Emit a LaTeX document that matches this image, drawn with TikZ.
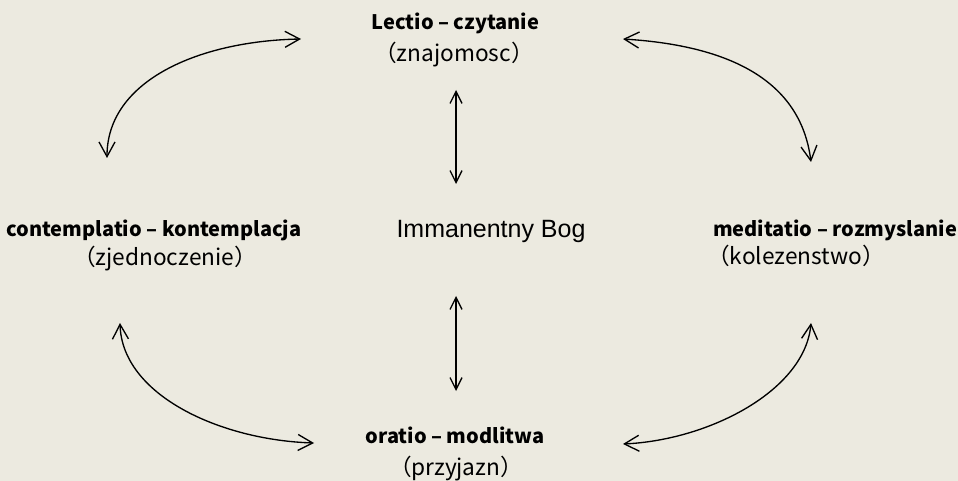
\documentclass[tikz,border=0pt]{standalone}
\usepackage{fontspec}
\usepackage{xcolor}
\usepackage{tikz}
\usetikzlibrary{arrows.meta}
\newfontfamily\gothfont{Noto Sans CJK JP}
\newfontfamily\godfont{Liberation Sans}
\definecolor{paper}{RGB}{236,234,224}

\begin{document}
\begin{tikzpicture}[x=0.75pt,y=0.75pt,yscale=-1,xscale=1,
    barb/.tip={Straight Barb[length=11pt,width=12pt]},
    smallbarb/.tip={Straight Barb[length=9pt,width=9pt]},
    conn/.style={line width=1pt,barb-barb},
    updown/.style={line width=1pt,smallbarb-smallbarb},
    head/.style={anchor=base,inner sep=0pt,font=\gothfont\bfseries\fontsize{15}{18}\selectfont},
    sub/.style={anchor=base,inner sep=0pt,font=\gothfont\fontsize{17}{20}\selectfont}]
        %set diagram: 958 x 481
        \fill [paper] (0,0) rectangle (958,481) ;

        % Text Node
        \node [head] (lectio) at (455.5,30) {Lectio – czytanie};
        \node [sub] (lectiosub) at (454,62) {（znajomosc）};
        % Text Node
        \node [head] (contemp) at (154,237) {contemplatio – kontemplacja};
        \node [sub] (contempsub) at (165,266) {（zjednoczenie）};
        % Text Node
        \node [head] (medit) at (835,237) {meditatio – rozmyslanie};
        \node [sub] (meditsub) at (796,265) {（kolezenstwo）};
        % Text Node
        \node [head] (oratio) at (455,443) {oratio – modlitwa};
        \node [sub] (oratiosub) at (456,475) {（przyjazn）};
        % Text Node
        \node [anchor=base,inner sep=0pt,font=\godfont\fontsize{18.75}{22}\selectfont] (god) at (491,238) {Immanentny Bog};

        %Arrow ends
        \coordinate (tl1) at (301,39) ;
        \coordinate (tl2) at (107,158) ;
        \coordinate (tr1) at (623,39) ;
        \coordinate (tr2) at (811,162) ;
        \coordinate (bl1) at (120,323) ;
        \coordinate (bl2) at (314,443) ;
        \coordinate (br1) at (623,444) ;
        \coordinate (br2) at (811,323) ;
        \coordinate (vt1) at (456,90) ;
        \coordinate (vt2) at (456,184) ;
        \coordinate (vb1) at (456,296) ;
        \coordinate (vb2) at (456,391) ;

        %Curve Lines
        \draw [conn] (tl1) .. controls (200,41) and (107,80) .. (tl2) ;
        \draw [conn] (tr1) .. controls (720,45) and (800,75) .. (tr2) ;
        \draw [conn] (bl1) .. controls (122,395) and (220,440) .. (bl2) ;
        \draw [conn] (br1) .. controls (710,440) and (805,390) .. (br2) ;
        %Straight Lines
        \draw [updown] (vt1) -- (vt2) ;
        \draw [updown] (vb1) -- (vb2) ;

\end{tikzpicture}
\end{document}
